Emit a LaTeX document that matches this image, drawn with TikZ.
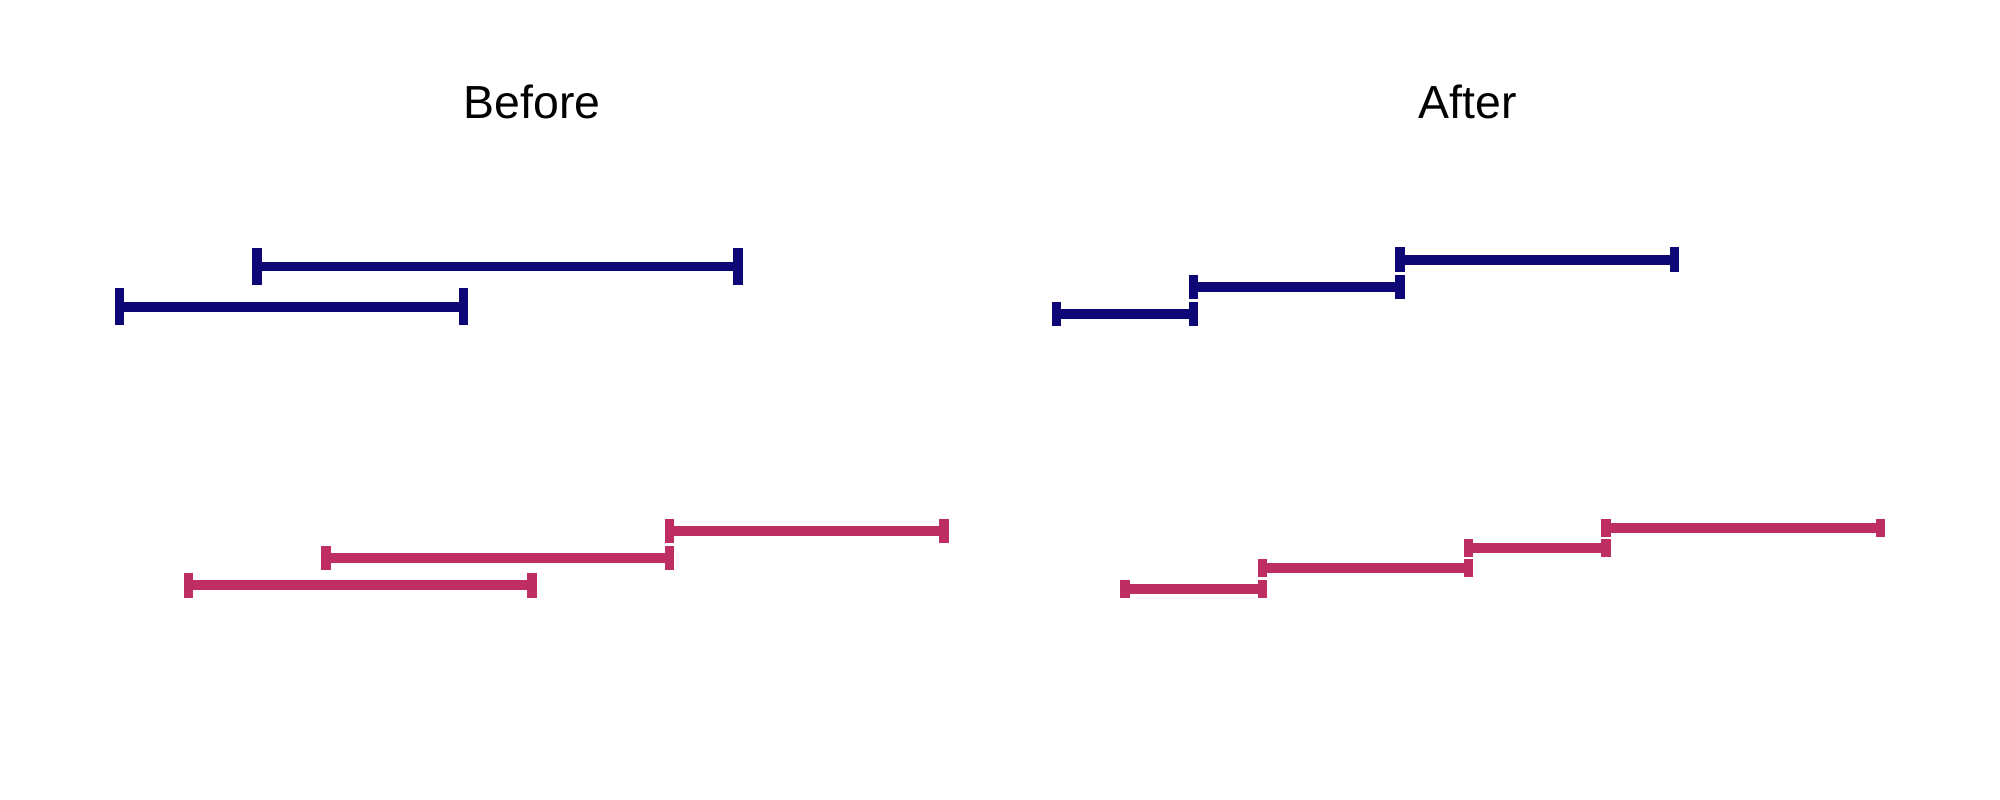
\documentclass[tikz,border=0pt]{standalone}
\usepackage{fontspec}
\setmainfont{Liberation Sans}

\definecolor{runblue}{RGB}{13,8,118}
\definecolor{runpink}{RGB}{191,46,98}

\begin{document}
\begin{tikzpicture}[x=0.01cm,y=-0.01cm,
  bar/.style={line width=0.096cm},
  cap node/.style={rectangle,inner sep=0pt,minimum width=0.094cm},
  title node/.style={anchor=base,font=\fontsize{13.2}{16}\selectfont}]
  \useasboundingbox (0,0) rectangle (2000,800);
  \node[title node] (before) at (532,118.3) {Before};
  \node[title node] (after) at (1467.5,118.3) {After};

  \foreach \xo/\lo/\hi/\yy/\hh/\col [count=\i] in {
    119.7/0/5/306.7/36.7/runblue, 119.7/2/9/266.5/36.7/runblue,
    1056.3/0/2/314/24.7/runblue, 1056.3/2/5/287/24.7/runblue,
    1056.3/5/9/259.7/24.7/runblue,
    119.7/1/6/585.2/24.7/runpink, 119.7/3/8/558/24.7/runpink,
    119.7/8/12/531/24.7/runpink,
    1056.3/1/3/588.7/18.3/runpink, 1056.3/3/6/568.2/18.3/runpink,
    1056.3/6/8/548/18.3/runpink, 1056.3/8/12/528/18.3/runpink}
  {
    \node[cap node,fill=\col,minimum height=\hh*0.01cm] (s\i) at ({\xo+68.7*\lo},\yy) {};
    \node[cap node,fill=\col,minimum height=\hh*0.01cm] (e\i) at ({\xo+68.7*\hi},\yy) {};
    \draw[bar,\col] (s\i.center) -- (e\i.center);
  }
\end{tikzpicture}
\end{document}
